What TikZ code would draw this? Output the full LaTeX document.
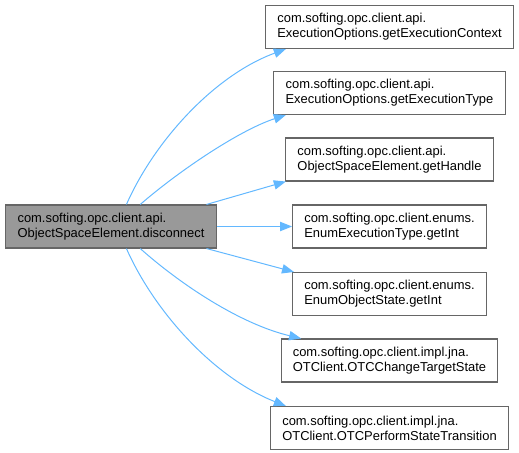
\documentclass[tikz,border=0pt]{standalone}
\usepackage{fontspec}
\setmainfont{Liberation Sans}
\usetikzlibrary{positioning,arrows.meta}
\definecolor{edgeblue}{HTML}{63B8FF}
\definecolor{boxgray}{HTML}{666666}
\definecolor{curgray}{HTML}{999999}
\tikzset{
    x=0.75pt,
    y=-0.75pt,
    func/.style = {
        draw=boxgray,
        fill=white,
        shape=rectangle,
        align=left,
        minimum height=32.25pt,
        inner xsep=8.8pt,
        inner ysep=2pt,
        line width=0.8pt,
        font=\fontsize{9.7pt}{11.2pt}\selectfont
    },
    current/.style = {
        func,
        fill=curgray
    },
    call/.style = {
        draw=edgeblue,
        line width=0.75pt
    },
    >={Triangle[length=9pt,width=7pt]},
}

\begin{document}
\begin{tikzpicture}
    \useasboundingbox (0,0) rectangle (519,453);

    \node[current] (disc) at (111,226.5) {com.softing.opc.client.api.\\ObjectSpaceElement.disconnect};
    \node[func] (ctx) at (389.5,27) {com.softing.opc.client.api.\\ExecutionOptions.getExecutionContext};
    \node[func] (type) at (389.5,93) {com.softing.opc.client.api.\\ExecutionOptions.getExecutionType};
    \node[func] (handle) at (389.5,159.5) {com.softing.opc.client.api.\\ObjectSpaceElement.getHandle};
    \node[func] (exectype) at (389.5,226.5) {com.softing.opc.client.enums.\\EnumExecutionType.getInt};
    \node[func] (objstate) at (389.5,294) {com.softing.opc.client.enums.\\EnumObjectState.getInt};
    \node[func] (change) at (389.5,360.5) {com.softing.opc.client.impl.jna.\\OTClient.OTCChangeTargetState};
    \node[func] (perform) at (389.5,428) {com.softing.opc.client.impl.jna.\\OTClient.OTCPerformStateTransition};

    \path[draw, call, ->] (disc.55) .. controls (155,140) and (215,75) .. (ctx.192);
    \path[draw, call, ->] (disc.37.5) .. controls (180,170) and (240,130) .. (type.192.8);
    \path[draw, call, ->] (disc.13.2) -- (handle.192.5);
    \path[draw, call, ->] (disc) -- (exectype);
    \path[draw, call, ->] (disc.-13.2) -- (objstate.167);
    \path[draw, call, ->] (disc.-37.5) .. controls (180,284) and (240,324) .. (change.166.5);
    \path[draw, call, ->] (disc.-55) .. controls (155,313) and (215,378) .. (perform.168.4);
\end{tikzpicture}
\end{document}
